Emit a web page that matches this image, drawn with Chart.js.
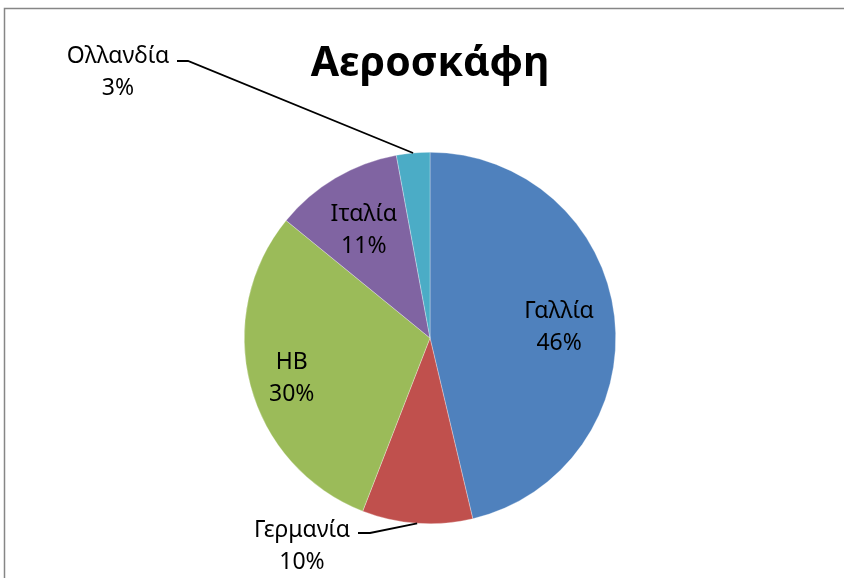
<!DOCTYPE html>
<html lang="el">
<head>
<meta charset="utf-8">
<title>Αεροσκάφη</title>
<script src="https://cdn.jsdelivr.net/npm/chart.js@4"></script>
<style>
  html, body { margin: 0; padding: 0; background: #fff; }
  #wrap { width: 844px; height: 578px; position: relative; }
</style>
</head>
<body>
<div id="wrap"><canvas id="pieChart"></canvas></div>
<script>
// data
const chartTitle = 'Αεροσκάφη';
const countries = ['Γαλλία', 'Γερμανία', 'ΗΒ', 'Ιταλία', 'Ολλανδία'];
const shares = [46.3, 9.6, 30.0, 11.2, 2.9];
const sliceColors = ['#4F81BD', '#C0504D', '#9BBB59', '#8064A2', '#4BACC6'];

const labelFont = '23px "Noto Sans", sans-serif';

// where each label goes: inside (fraction of radius) or outside with a leader line
const labelPlace = [
  { inside: 0.70 },
  { x: 302, y: 537, lineFrom: [358, 533], lineKnee: [370, 533] },
  { inside: 0.77 },
  { inside: 0.70 },
  { x: 118, y: 63, lineFrom: [177, 61], lineKnee: [188, 61] }
];

// frame + title + data labels
const decorPlugin = {
  id: 'decor',
  beforeDraw(chart) {
    const ctx = chart.ctx;
    ctx.save();
    ctx.strokeStyle = '#868686';
    ctx.lineWidth = 1.5;
    ctx.beginPath();
    ctx.moveTo(4.5, chart.height);
    ctx.lineTo(4.5, 8.5);
    ctx.lineTo(chart.width, 8.5);
    ctx.stroke();
    ctx.restore();
  },
  afterDraw(chart) {
    const ctx = chart.ctx;
    const arcs = chart.getDatasetMeta(0).data;
    const total = shares.reduce((a, b) => a + b, 0);
    ctx.save();

    ctx.fillStyle = '#000';
    ctx.textAlign = 'center';
    ctx.textBaseline = 'alphabetic';
    ctx.font = 'bold 41px "Noto Sans", sans-serif';
    ctx.fillText(chartTitle, 430, 76);

    ctx.font = labelFont;
    arcs.forEach((arc, i) => {
      const p = arc.getProps(['x', 'y', 'startAngle', 'endAngle', 'outerRadius'], true);
      const mid = (p.startAngle + p.endAngle) / 2;
      const pct = Math.round(shares[i] / total * 100) + '%';
      const place = labelPlace[i];
      let cx, by;
      if (place.inside) {
        const r = p.outerRadius * place.inside;
        cx = p.x + Math.cos(mid) * r;
        const cy = p.y + Math.sin(mid) * r;
        by = cy - 5;
      } else {
        cx = place.x;
        by = place.y;
        const ex = p.x + Math.cos(mid) * p.outerRadius;
        const ey = p.y + Math.sin(mid) * p.outerRadius;
        ctx.strokeStyle = '#000';
        ctx.lineWidth = 1.8;
        ctx.beginPath();
        ctx.moveTo(place.lineFrom[0], place.lineFrom[1]);
        ctx.lineTo(place.lineKnee[0], place.lineKnee[1]);
        ctx.lineTo(ex, ey);
        ctx.stroke();
      }
      ctx.fillText(countries[i], cx, by);
      ctx.fillText(pct, cx, by + 32);
    });
    ctx.restore();
  }
};

new Chart(document.getElementById('pieChart'), {
  type: 'pie',
  data: {
    labels: countries,
    datasets: [{
      data: shares,
      backgroundColor: sliceColors,
      borderColor: 'rgba(255,255,255,0.6)',
      borderWidth: 0.5
    }]
  },
  options: {
    responsive: true,
    maintainAspectRatio: false,
    animation: false,
    layout: { padding: { top: 152, bottom: 54, left: 50, right: 34 } },
    plugins: {
      legend: { display: false },
      tooltip: { enabled: false },
      title: { display: false }
    }
  },
  plugins: [decorPlugin]
});
</script>
</body>
</html>
